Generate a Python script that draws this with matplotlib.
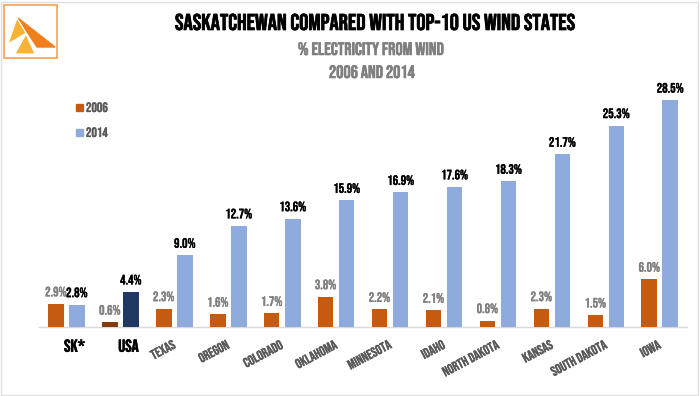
import matplotlib.pyplot as plt
import matplotlib.patheffects as pe
from matplotlib.patches import Rectangle, Polygon

categories = ['SK*', 'USA', 'TEXAS', 'OREGON', 'COLORADO', 'OKLAHOMA', 'MINNESOTA',
              'IDAHO', 'NORTH DAKOTA', 'KANSAS', 'SOUTH DAKOTA', 'IOWA']
v2006 = [2.9, 0.6, 2.3, 1.6, 1.7, 3.8, 2.2, 2.1, 0.8, 2.3, 1.5, 6.0]
v2014 = [2.8, 4.4, 9.0, 12.7, 13.6, 15.9, 16.9, 17.6, 18.3, 21.7, 25.3, 28.5]

orange = '#C55A11'
blue = '#8FAADC'
font = ['Bebas Neue', 'Oswald', 'DejaVu Sans']


def heavy(c, w=0.5):
    # Bebas renders a bit thin here, thicken slightly
    return [pe.withStroke(linewidth=w, foreground=c)]


fig = plt.figure(figsize=(7, 3.96), dpi=100)
W, H = 700, 396
ppu = 7.96  # pixels per percent

# axes: baseline at y=327 px, x from 30 to 690 px
ax = fig.add_axes([30 / W, 69 / H, 660 / W, (327 - 90) / H])
ax.set_xlim(-0.675, 11.56)
ax.set_ylim(0, (327 - 90) / ppu)

x = list(range(len(categories)))
off, bw = 0.195, 0.29
c06 = [orange] * len(x)
c14 = [blue] * len(x)
c06[1] = '#843C0C'
c14[1] = '#1F3864'
ax.bar([i - off for i in x], v2006, bw, color=c06, zorder=2)
ax.bar([i + off for i in x], v2014, bw, color=c14, zorder=2)

for i in x:
    ax.text(i - off, v2006[i] + 0.95, f'{v2006[i]:.1f}%', ha='center', va='baseline',
            fontsize=9.8, color='#808080', family=font, path_effects=heavy('#808080', 0.2))
    ax.text(i + off, v2014[i] + 0.95, f'{v2014[i]:.1f}%', ha='center', va='baseline',
            fontsize=9.8, color='black', family=font, path_effects=heavy('black', 0.2))

for s in ax.spines.values():
    s.set_visible(False)
ax.plot([-0.5, 11.5], [0, 0], color='#d9d9d9', lw=1, zorder=1, clip_on=False)
ax.set_yticks([])
ax.set_xticks([])

for i, name in enumerate(categories):
    if i < 2:
        ax.text(i + 0.15, -1.6, name, ha='center', va='top', fontsize=12.5,
                color='black', family=font, path_effects=heavy('black', 0.4))
    else:
        ax.text(i - 0.05, -1.5, name, ha='right', va='top', rotation=28,
                rotation_mode='anchor', fontsize=9.8,
                color='#595959', family=font, path_effects=heavy('#595959', 0.2))

# legend
ax.add_patch(Rectangle((76 / W, 1 - 111 / H), 7 / W, 7 / H, transform=fig.transFigure,
                       color=orange, clip_on=False))
ax.add_patch(Rectangle((76 / W, 1 - 136 / H), 7 / W, 7 / H, transform=fig.transFigure,
                       color=blue, clip_on=False))
fig.text(86 / W, 1 - 112 / H, '2006', va='baseline', fontsize=9.8,
         color='#595959', family=font, path_effects=heavy('#595959', 0.2))
fig.text(86 / W, 1 - 137 / H, '2014', va='baseline', fontsize=9.8,
         color='#595959', family=font, path_effects=heavy('#595959', 0.2))

# titles
fig.text(374 / W, 1 - 30 / H, 'SASKATCHEWAN COMPARED WITH TOP-10 US WIND STATES',
         ha='center', va='baseline', fontsize=16.5, color='black', family=font,
         path_effects=heavy('black', 0.5))
fig.text(371 / W, 1 - 55 / H, '% ELECTRICITY FROM WIND', ha='center', va='baseline',
         fontsize=13, color='#7f7f7f', family=font, path_effects=heavy('#7f7f7f', 0.4))
fig.text(372 / W, 1 - 78 / H, '2006 AND 2014', ha='center', va='baseline',
         fontsize=13, color='#7f7f7f', family=font, path_effects=heavy('#7f7f7f', 0.4))

# logo
fig.patches.append(Rectangle((4 / W, 1 - 58 / H), 53 / W, 53 / H, transform=fig.transFigure,
                             fill=False, edgecolor='#F6A04D', lw=1.2))
fig.patches.append(Polygon([(18 / W, 1 - 18 / H), (55 / W, 1 - 47 / H), (37 / W, 1 - 47 / H)],
                           closed=True, transform=fig.transFigure, color='#F07F1E'))
fig.patches.append(Polygon([(8 / W, 1 - 44 / H), (17 / W, 1 - 18 / H), (26 / W, 1 - 33 / H)],
                           closed=True, transform=fig.transFigure, facecolor='#F9B233',
                           edgecolor='white', lw=0.8))
fig.patches.append(Polygon([(15 / W, 1 - 54 / H), (26 / W, 1 - 34 / H), (35 / W, 1 - 54 / H)],
                           closed=True, transform=fig.transFigure, facecolor='#F9B233',
                           edgecolor='white', lw=0.8))

# outer border
fig.patches.append(Rectangle((1 / W, 1 / H), 697 / W, 393 / H, transform=fig.transFigure,
                             fill=False, edgecolor='#e0e0e0', lw=1))

fig.savefig('out.png', dpi=100)
